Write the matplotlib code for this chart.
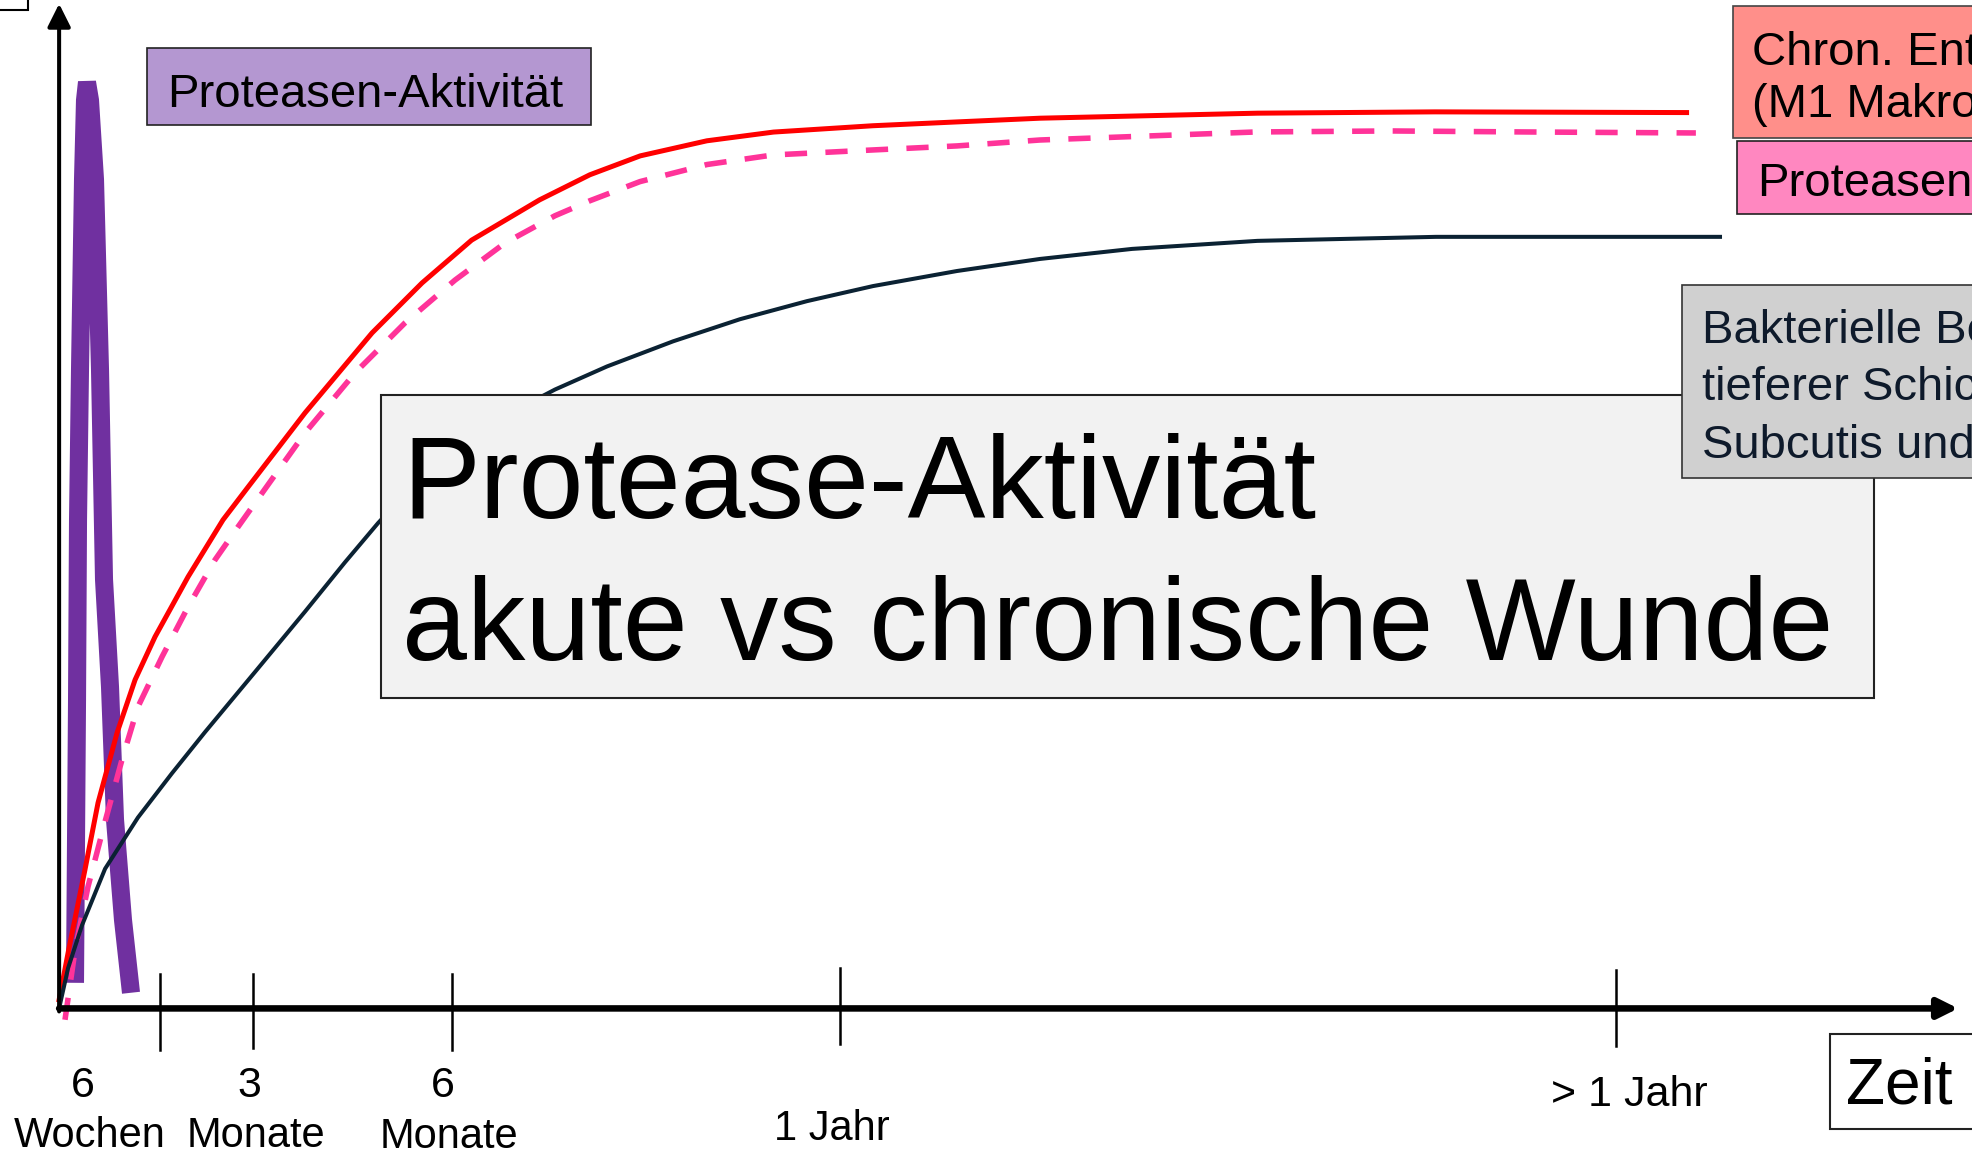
import numpy as np
import matplotlib
matplotlib.use("Agg")
import matplotlib.pyplot as plt
from matplotlib.patches import Rectangle

plt.rcParams['font.family'] = ['Liberation Sans', 'DejaVu Sans']

# x: relative time position (0..100), y: protease activity (0..100)
tick_pos = [5.3, 10.2, 20.7, 41.1, 82.0]
tick_top = [3.4, 3.4, 3.4, 4.0, 3.8]
tick_bot = [-4.1, -3.9, -4.1, -3.5, -3.7]

# curves
red_x = [0.0, 0.5, 1.36, 2.05, 3.05, 4.00, 5.05, 6.79, 8.63, 9.95, 12.95, 16.48, 19.11, 21.72,
         25.30, 27.95, 30.60, 34.11, 37.62, 42.85, 47.28, 51.66, 63.11, 72.45, 85.70]
red_y = [0.86, 5.8, 13.80, 20.47, 27.43, 32.71, 36.99, 42.96, 48.63, 51.9, 59.28, 67.24, 72.21, 76.47,
         80.48, 82.98, 84.86, 86.36, 87.23, 87.86, 88.24, 88.61, 89.11, 89.24, 89.17]

pink_x = [0.31, 0.84, 1.52, 2.42, 3.31, 4.15, 5.42, 6.79, 8.21, 9.42, 10.32, 12.95, 15.58, 18.21,
          20.85, 23.48, 26.11, 27.96, 30.59, 34.12, 37.59, 42.86, 47.28, 51.65, 63.02, 70.13, 77.29, 86.19]
pink_y = [-1.13, 5.84, 12.11, 18.6, 24.75, 30.02, 35.00, 39.97, 44.65, 47.93, 50.32, 57.29, 63.26, 68.23,
          72.5, 76.19, 78.9, 80.4, 82.3, 84.0, 84.95, 85.45, 85.85, 86.44, 87.24, 87.34, 87.24, 87.14]

navy_x = [0.0, 0.47, 1.21, 2.42, 4.15, 5.94, 7.68, 10.32, 12.95, 15.05, 16.79, 18.21, 20.85, 23.48,
          26.11, 28.85, 32.33, 35.85, 39.38, 42.86, 47.28, 51.65, 56.5, 63.1, 72.5, 87.46]
navy_y = [0.0, 4.0, 8.3, 13.9, 19.0, 23.4, 27.5, 33.5, 39.5, 44.4, 48.3, 51.2, 55.6, 59.0,
          61.6, 63.9, 66.4, 68.6, 70.4, 71.9, 73.4, 74.6, 75.6, 76.4, 76.8, 76.8]

spike_x = [0.836, 0.943, 0.995, 1.100, 1.258, 1.363, 1.468, 1.626, 1.890, 2.153, 2.364, 2.680, 2.943, 3.364, 3.785]
spike_y = [2.55, 30.7, 48.6, 63.6, 82.5, 90.4, 92.2, 90.4, 82.5, 63.6, 42.7, 32.0, 18.8, 8.8, 1.56]

num_labels = ["6", "3", "6"]
num_x = [1.26, 10.0, 20.2]
word_labels = ["Wochen", "Monate", "Monate", "1 Jahr", "> 1 Jahr"]
word_x = [1.62, 10.36, 20.53, 40.7, 82.7]
word_y = [-13.8, -13.8, -13.9, -13.1, -9.7]

fig = plt.figure(figsize=(19.72, 11.53), dpi=100)
ax = fig.add_axes([0, 0, 1, 1])
ax.set_xlim(-3.113, 100.73)
ax.set_ylim(-14.39, 100.375)
ax.axis('off')

# title box
fig.patches.append(Rectangle((0.1932, 0.3948), 0.7571, 0.2628, transform=fig.transFigure,
                             facecolor='#f2f2f2', edgecolor='#222222', lw=1.5, zorder=0))
fig.text(0.2041, 0.5507, "Protease-Aktivität", fontsize=84, va='baseline', ha='left')
fig.text(0.2041, 0.4275, "akute vs chronische Wunde", fontsize=84, va='baseline', ha='left')

# curves
ax.plot(spike_x, spike_y, color='#7030a0', lw=13, solid_capstyle='butt', solid_joinstyle='bevel', zorder=2)
ax.plot(red_x, red_y, color='#ff0000', lw=3.6, zorder=3)
ax.plot(pink_x, pink_y, color='#ff3399', lw=4.0, dashes=(4.0, 3.3), zorder=3)
ax.plot(navy_x, navy_y, color='#0b2233', lw=2.9, zorder=3)

# axes with arrows
ax.annotate('', xy=(0, 100), xytext=(0, -0.3),
            arrowprops=dict(arrowstyle='-|>', lw=2.9, color='black', mutation_scale=35,
                            shrinkA=0, shrinkB=0), zorder=4)
ax.annotate('', xy=(100, 0), xytext=(0, 0),
            arrowprops=dict(arrowstyle='-|>', lw=4.7, color='black', mutation_scale=30,
                            shrinkA=0, shrinkB=0), zorder=4)
for xp, t, b in zip(tick_pos, tick_top, tick_bot):
    ax.plot([xp, xp], [b, t], color='black', lw=1.8, zorder=4)

# tick labels
for xp, s in zip(num_x, num_labels):
    ax.text(xp, -8.8, s, fontsize=31, ha='center', va='baseline')
for xp, yb, s in zip(word_x, word_y, word_labels):
    ax.text(xp, yb, s, fontsize=31 if len(s) > 6 else 30, ha='center', va='baseline')

# labels / boxes
fig.patches.append(Rectangle((0.0746, 0.892), 0.2251, 0.0666, transform=fig.transFigure,
                             facecolor='#b497d1', edgecolor='#222222', lw=1.2, zorder=1))
fig.text(0.0848, 0.9073, "Proteasen-Aktivität", fontsize=34, va='baseline')

fig.patches.append(Rectangle((0.8788, 0.880), 0.2, 0.1145, transform=fig.transFigure,
                             facecolor='#ff8f8a', edgecolor='#444444', lw=1.2, zorder=1))
fig.text(0.8884, 0.9435, "Chron. Entzündung", fontsize=34, va='baseline')
fig.text(0.8884, 0.8985, "(M1 Makrophagen)", fontsize=34, va='baseline')

fig.patches.append(Rectangle((0.8807, 0.8146), 0.2, 0.0633, transform=fig.transFigure,
                             facecolor='#ff87c0', edgecolor='#222222', lw=1.2, zorder=1))
fig.text(0.891, 0.8299, "Proteasen-Aktivität", fontsize=34, va='baseline')

fig.patches.append(Rectangle((0.8527, 0.5856), 0.2, 0.1668, transform=fig.transFigure,
                             facecolor='#d0d0d0', edgecolor='#333333', lw=1.2, zorder=1))
for yb, s in zip([0.7023, 0.6532, 0.6031], ["Bakterielle Besiedlung", "tieferer Schichten", "Subcutis und Faszie"]):
    fig.text(0.8629, yb, s, fontsize=34, va='baseline', color='#0e1a2b')

fig.patches.append(Rectangle((0.9279, 0.0207), 0.1, 0.0829, transform=fig.transFigure,
                             facecolor='white', edgecolor='#222222', lw=1.5, zorder=1))
fig.text(0.9362, 0.0425, "Zeit", fontsize=46, va='baseline')

fig.patches.append(Rectangle((-0.01, 0.9913), 0.024, 0.02, transform=fig.transFigure,
                             facecolor='white', edgecolor='black', lw=1.5, zorder=1))

fig.savefig("out.png", dpi=100)
